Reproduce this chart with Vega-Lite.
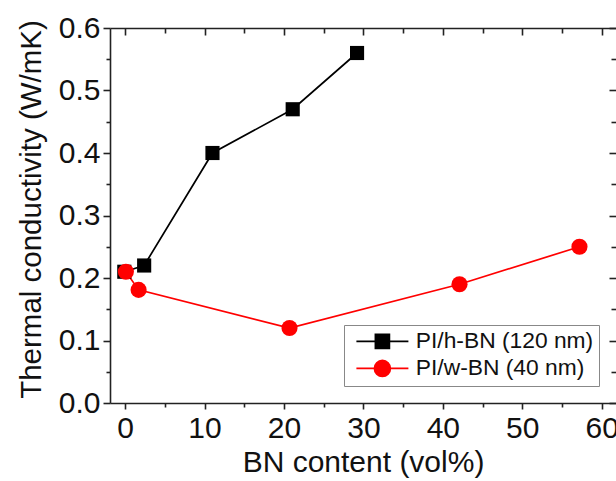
{
  "$schema": "https://vega.github.io/schema/vega-lite/v6.json",
  "width": 506,
  "height": 375,
  "autosize": {"type": "none"},
  "padding": {"left": 110, "top": 28, "right": 0, "bottom": 78},
  "background": "white",
  "config": {
    "font": "Liberation Sans",
    "view": {"stroke": null},
    "axis": {
      "grid": false,
      "domainColor": "#222",
      "domainWidth": 1.6,
      "tickColor": "#222",
      "tickWidth": 1.6,
      "labelColor": "#111",
      "titleColor": "#111",
      "labelFont": "Liberation Sans",
      "titleFont": "Liberation Sans",
      "labelFontSize": 30,
      "titleFontSize": 30,
      "titleFontWeight": "normal",
      "labelOverlap": false,
      "labelFlush": false
    }
  },
  "data": {
    "values": [
      {"series": "PI/h-BN (120 nm)", "x": -0.1, "y": 0.21},
      {"series": "PI/h-BN (120 nm)", "x": 2.4, "y": 0.22},
      {"series": "PI/h-BN (120 nm)", "x": 11.0, "y": 0.40},
      {"series": "PI/h-BN (120 nm)", "x": 21.1, "y": 0.47},
      {"series": "PI/h-BN (120 nm)", "x": 29.2, "y": 0.56},
      {"series": "PI/w-BN (40 nm)", "x": 0.1, "y": 0.21},
      {"series": "PI/w-BN (40 nm)", "x": 1.7, "y": 0.181},
      {"series": "PI/w-BN (40 nm)", "x": 20.7, "y": 0.12},
      {"series": "PI/w-BN (40 nm)", "x": 42.1, "y": 0.19},
      {"series": "PI/w-BN (40 nm)", "x": 57.2, "y": 0.25}
    ]
  },
  "layer": [
    {
      "transform": [{"filter": "datum.series == 'PI/h-BN (120 nm)'"}],
      "mark": {"type": "line", "strokeWidth": 1.7},
      "encoding": {
        "x": {
          "field": "x", "type": "quantitative",
          "scale": {"domain": [-1.9, 61.8], "nice": false, "zero": false},
          "axis": {"orient": "bottom", "values": [0, 10, 20, 30, 40, 50, 60], "tickSize": 6, "labelPadding": 4, "title": "BN content (vol%)", "titlePadding": 4}
        },
        "y": {
          "field": "y", "type": "quantitative",
          "scale": {"domain": [0, 0.6], "nice": false, "zero": false},
          "axis": {"orient": "left", "values": [0, 0.1, 0.2, 0.3, 0.4, 0.5, 0.6], "format": ".1f", "tickSize": 7, "labelPadding": 3, "title": "Thermal conductivity (W/mK)", "titlePadding": 12, "titleFontSize": 29.5, "titleY": 181}
        },
        "color": {
          "field": "series", "type": "nominal",
          "scale": {"domain": ["PI/h-BN (120 nm)", "PI/w-BN (40 nm)"], "range": ["#000000", "#ff0000"]},
          "legend": {
            "title": null,
            "orient": "bottom-right",
            "offset": 17,
            "strokeColor": "#888",
            "fillColor": "white",
            "padding": 5,
            "rowPadding": 3,
            "labelFontSize": 22.8,
            "labelLimit": 400,
            "labelFont": "Liberation Sans",
            "labelColor": "#111",
            "symbolSize": 400,
            "symbolStrokeWidth": 1.7,
            "symbolOffset": 22,
            "labelOffset": 22,
            "encode": {
              "symbols": {
                "update": {
                  "shape": {"signal": "datum.value == 'PI/h-BN (120 nm)' ? 'M-2.6,0H2.6M-0.7,-0.7H0.7V0.7H-0.7Z' : 'M-2.6,0H2.6M-0.8,0A0.8,0.8,0,1,1,0.8,0A0.8,0.8,0,1,1,-0.8,0Z'"},
                  "fill": {"signal": "datum.value == 'PI/h-BN (120 nm)' ? '#000000' : '#ff0000'"},
                  "stroke": {"signal": "datum.value == 'PI/h-BN (120 nm)' ? '#000000' : '#ff0000'"}
                }
              }
            }
          }
        }
      }
    },
    {
      "transform": [{"filter": "datum.series == 'PI/w-BN (40 nm)'"}],
      "mark": {"type": "line", "strokeWidth": 1.7},
      "encoding": {
        "x": {
          "field": "x", "type": "quantitative",
          "axis": {"orient": "bottom", "values": [5, 15, 25, 35, 45, 55], "tickSize": 4, "labels": false, "domain": false, "title": null}
        },
        "y": {
          "field": "y", "type": "quantitative",
          "axis": {"orient": "left", "values": [0.05, 0.15, 0.25, 0.35, 0.45, 0.55], "tickSize": 4, "labels": false, "domain": false, "title": null}
        },
        "color": {"field": "series", "type": "nominal"}
      }
    },
    {
      "transform": [{"filter": "datum.series == 'PI/h-BN (120 nm)'"}],
      "mark": {"type": "point", "shape": "square", "filled": true, "size": 200, "color": "#000000", "opacity": 1},
      "encoding": {
        "x": {
          "field": "x", "type": "quantitative",
          "axis": {"orient": "top", "values": [0, 10, 20, 30, 40, 50, 60], "tickSize": -7, "labels": false, "title": null}
        },
        "y": {
          "field": "y", "type": "quantitative",
          "axis": {"orient": "right", "values": [0, 0.1, 0.2, 0.3, 0.4, 0.5, 0.6], "tickSize": -7, "labels": false, "domain": false, "title": null}
        }
      }
    },
    {
      "transform": [{"filter": "datum.series == 'PI/w-BN (40 nm)'"}],
      "mark": {"type": "point", "shape": "circle", "filled": true, "size": 260, "color": "#ff0000", "opacity": 1},
      "encoding": {
        "x": {
          "field": "x", "type": "quantitative",
          "axis": {"orient": "top", "values": [5, 15, 25, 35, 45, 55], "tickSize": -5, "labels": false, "domain": false, "title": null}
        },
        "y": {
          "field": "y", "type": "quantitative",
          "axis": {"orient": "right", "values": [0.05, 0.15, 0.25, 0.35, 0.45, 0.55], "tickSize": -5, "labels": false, "domain": false, "title": null}
        }
      }
    }
  ],
  "resolve": {"axis": {"x": "independent", "y": "independent"}}
}
